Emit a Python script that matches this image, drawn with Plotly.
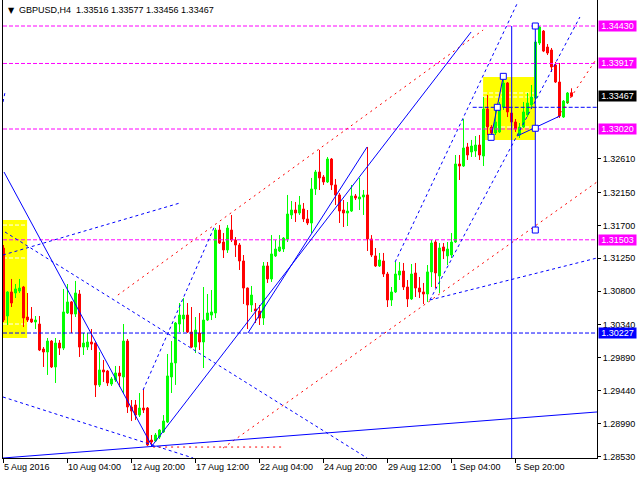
import plotly.graph_objects as go

# ---------------- data (H4 bars, index 0 = 5 Aug 2016 12:00) ----------------
opens = [1.31390,1.30460,1.30789,1.30775,1.30802,1.30857,1.30446,1.30419,1.30378,1.30350,
         1.30008,1.29967,1.30117,1.29762,1.30090,1.30021,1.30501,1.30652,1.30487,1.30761,
         1.30035,1.30035,1.30104,1.30090,1.29516,1.29721,1.29707,1.29529,1.29584,1.29680,
         1.29625,1.30117,1.29214,1.29242,1.29104,1.29200,1.29200,1.28762,1.28748,1.28803,
         1.28872,1.29009,1.29625,1.29817,1.30350,1.30419,1.30473,1.30241,1.30035,1.30227,
         1.30104,1.30405,1.30473,1.30501,1.31637,1.31473,1.31364,1.31637,1.31500,1.31432,
         1.31213,1.30843,1.30611,1.30556,1.30528,1.30432,1.31145,1.30967,1.31282,1.31350,
         1.31377,1.31514,1.31843,1.31911,1.31870,1.31925,1.31788,1.31733,1.32199,1.32431,
         1.32363,1.32295,1.32609,1.32254,1.32117,1.31911,1.31870,1.31897,1.32103,1.32062,
         1.32089,1.32117,1.31514,1.31282,1.31145,1.31213,1.31035,1.30679,1.30789,1.31021,
         1.31076,1.30857,1.30693,1.31049,1.30843,1.30789,1.30761,1.31063,1.31473,1.31008,
         1.31405,1.31282,1.31295,1.31473,1.32541,1.32513,1.32774,1.32705,1.32719,1.32801,
         1.32650,1.33294,1.33047,1.32965,1.32979,1.33321,1.33650,1.33239,1.33116,1.32938,
         1.33047,1.33212,1.33349,1.33444,1.34197,1.34361,1.34142,1.34101,1.33896,1.33663,
         1.33184,1.33376,1.33516]
highs = [1.31432,1.30800,1.30967,1.30898,1.30967,1.30871,1.30775,1.30583,1.30460,1.30460,
         1.30035,1.30159,1.30131,1.30159,1.30131,1.30830,1.30898,1.30665,1.30940,1.30816,
         1.30227,1.30227,1.30282,1.30095,1.29967,1.29858,1.29721,1.29625,1.29776,1.29776,
         1.30350,1.30145,1.29310,1.29310,1.29406,1.29461,1.29214,1.28831,1.28858,1.28913,
         1.29104,1.29940,1.30117,1.30378,1.30638,1.30706,1.30638,1.30583,1.30446,1.30501,
         1.30857,1.30761,1.30816,1.31664,1.31705,1.31596,1.31705,1.31843,1.31541,1.31459,
         1.31295,1.30850,1.30871,1.30638,1.30611,1.31199,1.31199,1.31568,1.31500,1.31568,
         1.31541,1.32117,1.32034,1.32021,1.32103,1.32007,1.31911,1.32350,1.32459,1.32733,
         1.32390,1.32637,1.32623,1.32336,1.32144,1.32048,1.32021,1.32254,1.32130,1.32350,
         1.32185,1.32774,1.31568,1.31391,1.31323,1.31323,1.31063,1.30857,1.31199,1.31199,
         1.31186,1.30953,1.31172,1.31186,1.30994,1.30912,1.31158,1.31500,1.31500,1.31459,
         1.31459,1.31473,1.31596,1.32664,1.32664,1.33157,1.32829,1.32870,1.32924,1.32938,
         1.33458,1.33486,1.33074,1.33321,1.33390,1.33759,1.33663,1.33321,1.33157,1.33102,
         1.33390,1.33513,1.33622,1.34238,1.34430,1.34375,1.34183,1.34129,1.33937,1.33924,
         1.33417,1.33527,1.33577]
lows = [1.30378,1.30337,1.30583,1.30706,1.30775,1.30309,1.30378,1.30364,1.30282,1.29980,
        1.29762,1.29653,1.29748,1.29543,1.29926,1.29994,1.30487,1.30227,1.30446,1.29899,
        1.29926,1.29994,1.29994,1.29351,1.29488,1.29557,1.29502,1.29502,1.29557,1.29488,
        1.29406,1.29132,1.29022,1.29036,1.29077,1.29132,1.28680,1.28680,1.28735,1.28776,
        1.28858,1.28995,1.29406,1.29516,1.30241,1.30241,1.30227,1.30021,1.29953,1.29994,
        1.29748,1.30391,1.30405,1.30432,1.31446,1.31254,1.31323,1.31473,1.31268,1.31090,
        1.30624,1.30282,1.30515,1.30364,1.30337,1.30337,1.30912,1.30926,1.31268,1.31336,
        1.31336,1.31473,1.31788,1.31747,1.31843,1.31747,1.31705,1.31596,1.32117,1.32185,
        1.32254,1.32281,1.32185,1.31980,1.31733,1.31678,1.31692,1.31884,1.32048,1.31911,
        1.31843,1.31350,1.31268,1.31131,1.31131,1.30994,1.30583,1.30597,1.30775,1.30953,
        1.30816,1.30583,1.30679,1.30720,1.30706,1.30624,1.30652,1.30857,1.30843,1.30775,
        1.31240,1.31158,1.31254,1.31459,1.32322,1.32500,1.32596,1.32637,1.32637,1.32596,
        1.32513,1.32938,1.32938,1.32938,1.32965,1.33280,1.33184,1.33006,1.32979,1.32897,
        1.33034,1.33184,1.33308,1.33417,1.34170,1.34073,1.34033,1.33801,1.33650,1.33171,
        1.33171,1.33362,1.33456]
closes = [1.30405,1.30789,1.30638,1.30830,1.30843,1.30432,1.30405,1.30378,1.30405,1.29994,
          1.29967,1.30117,1.29762,1.30090,1.30021,1.30515,1.30652,1.30487,1.30775,1.30035,
          1.30090,1.30104,1.30076,1.29516,1.29721,1.29694,1.29543,1.29598,1.29680,1.29639,
          1.30117,1.29214,1.29159,1.29104,1.29200,1.29173,1.28694,1.28735,1.28831,1.28899,
          1.29022,1.29639,1.29817,1.30364,1.30473,1.30473,1.30241,1.30035,1.30268,1.30104,
          1.30405,1.30501,1.30515,1.31637,1.31459,1.31364,1.31664,1.31500,1.31432,1.31213,
          1.30843,1.30611,1.30747,1.30528,1.30432,1.31145,1.30967,1.31309,1.31377,1.31405,
          1.31527,1.31856,1.31911,1.31870,1.31980,1.31788,1.31733,1.32199,1.32431,1.32350,
          1.32295,1.32609,1.32254,1.32117,1.31897,1.31870,1.31897,1.32103,1.32075,1.32089,
          1.32117,1.31514,1.31295,1.31145,1.31227,1.31035,1.30679,1.30789,1.31035,1.31076,
          1.30857,1.30693,1.31035,1.30843,1.30789,1.30761,1.31063,1.31459,1.31049,1.31391,
          1.31350,1.31377,1.31473,1.32541,1.32513,1.32760,1.32664,1.32787,1.32801,1.32664,
          1.33294,1.33047,1.32965,1.33116,1.33321,1.33650,1.33253,1.33116,1.33020,1.33047,
          1.33253,1.33376,1.33458,1.34211,1.34416,1.34087,1.34060,1.33869,1.33663,1.33198,
          1.33403,1.33513,1.33467]

x_tick_idx = [0, 16, 32, 48, 64, 80, 96, 112, 128]
x_tick_text = ["5 Aug 2016", "10 Aug 04:00", "12 Aug 20:00", "17 Aug 12:00", "22 Aug 04:00",
               "24 Aug 20:00", "29 Aug 12:00", "1 Sep 04:00", "5 Sep 20:00"]
y_tick_vals = [1.28530, 1.28990, 1.29440, 1.29890, 1.30340, 1.30800, 1.31250, 1.31700,
               1.32150, 1.32610]

magenta_levels = [1.34430, 1.33917, 1.33020, 1.31503]
blue_level = 1.30227
blue_level2 = (117.3, 1.33317)          # start index, price
last_price = 1.33467
title_text = "GBPUSD,H4  1.33516 1.33577 1.33456 1.33467"

# rectangles: (x0, x1, y0, y1) and white dashed levels inside
rects = [(-0.125, 5.9, 1.30159, 1.31774), (119.9, 132.9, 1.32870, 1.33732)]
rect_levels = [[1.31705, 1.31254, 1.30350], [1.33513, 1.33458, 1.33047]]

# trend lines (x index, price) pairs
blue_solid = [
    [(0.125, 1.32431), (37.1, 1.28680)],
    [(37.1, 1.28680), (116.9, 1.34348)],
    [(61.1, 1.30227), (90.9, 1.32774)],
    [(-0.125, 1.28516), (148.375, 1.29146)],
    [(121.9, 1.32906), (124.95, 1.33741)],
    [(127.05, 1.28516), (127.05, 1.34430)],
    [(132.95, 1.31637), (132.95, 1.34430)],
    [(128.4, 1.32924), (139.1, 1.33198)],
]
blue_dotted = [
    [(-0.125, 1.31295), (44.1, 1.32007)],
    [(0.375, 1.31610), (90.9, 1.28516)],
    [(-0.125, 1.29351), (47.4, 1.28516)],
    [(34.9, 1.29447), (52.9, 1.31705)],
    [(97.9, 1.31199), (128.6, 1.34759)],
    [(106.6, 1.30679), (144.1, 1.34553)],
    [(106.6, 1.30679), (148.375, 1.31254)],
    [(-0.125, 1.33390), (0.4, 1.33527)],
]
red_dotted = [
    [(28.6, 1.30747), (119.9, 1.34375)],
    [(54.9, 1.28653), (148.375, 1.32295)],
    [(37.4, 1.28666), (69.9, 1.28666)],
    [(138.4, 1.33171), (148.375, 1.33992)],
]
square_pts = [(132.95, 1.34430), (132.95, 1.33030), (132.95, 1.31637),
              (121.9, 1.32906), (123.45, 1.33317), (124.95, 1.33741)]

XMIN, XMAX = -0.125, 148.375
YMIN, YMAX = 1.28516, 1.34786

FONT = "Liberation Sans"
BLUE, RED, MAG, LIME, YEL = "#0000FF", "#FF0000", "#FF00FF", "#00FF00", "#FFFF00"

fig = go.Figure()

shapes = []
for (x0, x1, y0, y1), lv in zip(rects, rect_levels):
    shapes.append(dict(type="rect", xref="x", yref="y", x0=x0, x1=x1, y0=y0, y1=y1,
                       fillcolor=YEL, line=dict(width=0), layer="below"))
    for v in lv:
        shapes.append(dict(type="line", xref="x", yref="y", x0=x0, x1=x1, y0=v, y1=v,
                           line=dict(color="white", width=1, dash="4px,2px"), layer="below"))

idx = list(range(len(opens)))
fig.add_trace(go.Candlestick(
    x=idx, open=opens, high=highs, low=lows, close=closes,
    increasing=dict(line=dict(color=LIME, width=1), fillcolor=LIME),
    decreasing=dict(line=dict(color=RED, width=1), fillcolor=RED),
    whiskerwidth=0, showlegend=False, hoverinfo="skip"))

def add_lines(lines, color, dash):
    for seg in lines:
        fig.add_trace(go.Scatter(x=[p[0] for p in seg], y=[p[1] for p in seg], mode="lines",
                                 line=dict(color=color, width=1, dash=dash),
                                 showlegend=False, hoverinfo="skip"))

for lv in magenta_levels:
    add_lines([[(XMIN, lv), (XMAX, lv)]], MAG, "4px,2px")
add_lines([[(XMIN, blue_level), (XMAX, blue_level)]], BLUE, "4px,2px")
add_lines([[blue_level2, (XMAX, blue_level2[1])]], BLUE, "4px,2px")
add_lines(blue_dotted, BLUE, "3px,3px")
add_lines(red_dotted, RED, "2px,4px")
add_lines(blue_solid, BLUE, "solid")

fig.add_trace(go.Scatter(x=[p[0] for p in square_pts], y=[p[1] for p in square_pts],
                         mode="markers", marker=dict(symbol="square", size=6, color="white",
                                                     line=dict(color=BLUE, width=1)),
                         showlegend=False, hoverinfo="skip"))

annotations = []
for i, t in zip(x_tick_idx, x_tick_text):
    annotations.append(dict(x=i, xref="x", y=0, yref="paper", text=t, showarrow=False,
                            xanchor="left", yanchor="top", yshift=-2, xshift=-2,
                            font=dict(family=FONT, size=9, color="black")))

def price_label(v, bg):
    return dict(x=1, xref="paper", y=v, yref="y", text=f"{v:.5f}", showarrow=False,
                xanchor="left", yanchor="middle", xshift=1, bgcolor=bg, borderpad=0,
                height=10, width=37,
                font=dict(family=FONT, size=9, color="white"))

for lv in magenta_levels:
    annotations.append(price_label(lv, MAG))
annotations.append(price_label(blue_level, BLUE))
annotations.append(price_label(last_price, "black"))

annotations.append(dict(x=0, xref="paper", y=1, yref="paper", text="▼", showarrow=False,
                        xanchor="left", yanchor="top", xshift=3, yshift=-4,
                        font=dict(family="DejaVu Sans", size=8, color="black")))
annotations.append(dict(x=0, xref="paper", y=1, yref="paper", text=title_text, showarrow=False,
                        xanchor="left", yanchor="top", xshift=14, yshift=-3,
                        font=dict(family=FONT, size=9, color="black")))

fig.update_layout(
    width=640, height=480, autosize=False,
    margin=dict(l=3, r=43, t=0, b=22),
    paper_bgcolor="white", plot_bgcolor="white",
    shapes=shapes, annotations=annotations, showlegend=False,
    xaxis=dict(range=[XMIN, XMAX], showgrid=False, zeroline=False, showline=True,
               linecolor="black", linewidth=1, ticks="outside", ticklen=4, tickcolor="black",
               tickvals=x_tick_idx, showticklabels=False, rangeslider=dict(visible=False),
               fixedrange=True),
    yaxis=dict(range=[YMIN, YMAX], side="right", showgrid=False, zeroline=False,
               showline=True, mirror=True, linecolor="black", linewidth=1,
               ticks="outside", ticklen=3, tickcolor="black",
               tickvals=y_tick_vals, ticktext=[f"{v:.5f}" for v in y_tick_vals],
               tickfont=dict(family=FONT, size=9, color="black"), fixedrange=True),
)

fig.write_html("out.html", config={"displayModeBar": False},
               post_script="document.body.style.margin='0px';document.body.style.overflow='hidden';")
